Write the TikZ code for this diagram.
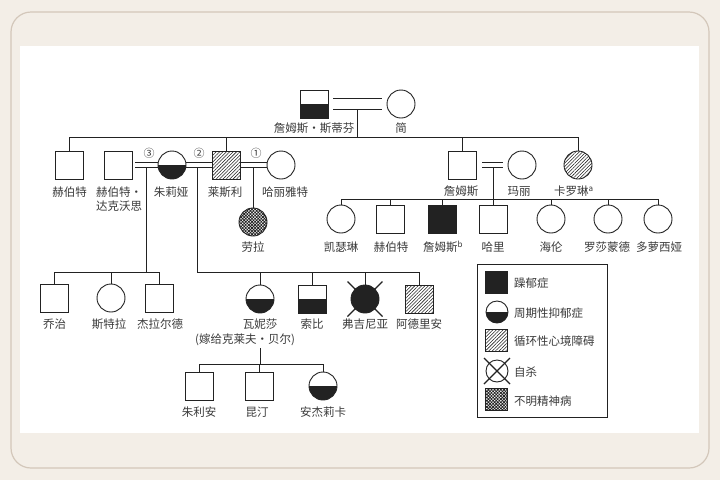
\documentclass[tikz,border=0pt]{standalone}
\usepackage{fontspec}
\setmainfont{Noto Sans CJK SC}
\usetikzlibrary{calc,patterns.meta}
\definecolor{bg}{HTML}{F3EEE7}
\definecolor{rim}{HTML}{D3C7BA}
\definecolor{ink}{HTML}{222222}
\definecolor{txt}{HTML}{3A3A3A}
\tikzset{
  ind/.style={draw=ink, line width=0.9pt, inner sep=0pt, minimum size=28pt, fill=white},
  sq/.style={ind, rectangle},
  ci/.style={ind, circle},
  lsq/.style={sq, minimum size=22pt},
  lci/.style={ci, minimum size=22pt},
  lowhalf/.style={path picture={\fill[ink] (path picture bounding box.west) rectangle (path picture bounding box.south east);}},
  solid/.style={fill=ink},
  hatch/.style={pattern={Lines[angle=45,distance=2.4pt,line width=0.55pt]}, pattern color=ink},
  xhatch/.style={pattern={Hatch[angle=45,distance=2.2pt,line width=0.75pt]}, pattern color=ink},
  lab/.style={font=\fontsize{11.5}{14}\selectfont, text=txt, inner sep=0pt},
  num/.style={font=\fontsize{11}{12}\selectfont, text=txt, inner sep=0pt},
  ln/.style={draw=ink, line width=0.9pt},
  xmark/.style={draw=ink, line width=1.2pt}
}
\begin{document}
\begin{tikzpicture}[x=1pt,y=-1pt]
\fill[bg] (0,0) rectangle (720,480);
\useasboundingbox (0,0) rectangle (720,480);
\draw[rim, line width=1.2pt, rounded corners=20pt] (11,12) rectangle (709,468);
\fill[white] (20,46) rectangle (699,433);

% generation 1
\node[sq, lowhalf] (js) at (314,104) {};
\node[ci] (jane) at (401,104) {};
\node[lab] (jsl) at (314,128) {詹姆斯・斯蒂芬};
\node[lab] (janel) at (401,128) {简};
\draw[ln] ($(js.east)+(5,-5.5)$) -- ($(jane.west)+(-5,-5.5)$);
\draw[ln] ($(js.east)+(5,5.5)$) -- ($(jane.west)+(-5,5.5)$);
\coordinate (m0) at (357,109.5);
\coordinate (g1) at (357,137);
\draw[ln] (m0) -- (g1);

% generation 2
\node[sq] (herb) at (69.5,165) {};
\node[sq] (hd) at (118,165) {};
\node[ci, lowhalf] (julia) at (172,165) {};
\node[sq, hatch] (leslie) at (226,165) {};
\node[ci] (harriet) at (281,165) {};
\node[ci, xhatch] (laura) at (253,222) {};
\node[sq] (james) at (462,165) {};
\node[ci] (mary) at (522,165) {};
\node[ci, hatch] (caroline) at (578,165) {};

\node[lab] (herbl) at (69.5,192) {赫伯特};
\node[lab, align=center] (hdl) at (119,199.5) {赫伯特・\\达克沃思};
\node[lab] (julial) at (171,192) {朱莉娅};
\node[lab] (lesliel) at (225,192) {莱斯利};
\node[lab] (harrietl) at (285,192) {哈丽雅特};
\node[lab] (laural) at (253,247) {劳拉};
\node[lab] (jamesl) at (461,191) {詹姆斯};
\node[lab] (maryl) at (519,191) {玛丽};
\node[lab] (carolinel) at (574,191) {卡罗琳\textsuperscript{a}};

\draw[ln] (herb.north |- g1) -- (caroline.north |- g1);
\foreach \n in {herb,leslie,james,caroline} \draw[ln] (\n.north) -- (\n.north |- g1);

% marriages of generation 2
\foreach \d in {-2.5,2.5} {
  \draw[ln] ($(hd.east)+(3,\d)$) -- ($(julia.west)+(0,\d)$);
  \draw[ln] ($(julia.east)+(0,\d)$) -- ($(leslie.west)+(0,\d)$);
  \draw[ln] ($(leslie.east)+(0,\d)$) -- ($(harriet.west)+(0,\d)$);
  \draw[ln] ($(james.east)+(6,\d)$) -- ($(mary.west)+(-5,\d)$);
}
\node[num] (n3) at (149,153) {③};
\node[num] (n2) at (199,153) {②};
\node[num] (n1) at (256,153) {①};

% generation 3, right
\node[ci] (kat) at (341,219) {};
\node[sq] (herb2) at (390,219) {};
\node[sq, solid] (jam2) at (442,219) {};
\node[sq] (harry) at (493,219) {};
\node[ci] (helen) at (551,219) {};
\node[ci] (ros) at (608,219) {};
\node[ci] (dor) at (658,219) {};
\coordinate (g2) at (493,199);
\coordinate (m4) at (493,167.5);
\draw[ln] (m4) -- (harry.north);
\draw[ln] (kat.north |- g2) -- (dor.north |- g2);
\foreach \n in {kat,herb2,jam2,helen,ros,dor} \draw[ln] (\n.north) -- (\n.north |- g2);
\node[lab] at (341,247) {凯瑟琳};
\node[lab] at (391,247) {赫伯特};
\node[lab] at (443,247) {詹姆斯\textsuperscript{b}};
\node[lab] at (493,247) {哈里};
\node[lab] at (551,247) {海伦};
\node[lab] at (607,247) {罗莎蒙德};
\node[lab] at (659,247) {多萝西娅};

% Laura
\coordinate (m1) at (253,167.5);
\draw[ln] (m1) -- (laura.north);

% generation 3, left (Duckworth)
\node[sq] (george) at (54.5,298) {};
\node[ci] (stella) at (111,298) {};
\node[sq] (gerald) at (159,298) {};
\coordinate (m3) at (146,167.5);
\coordinate (g3) at (146,272);
\draw[ln] (m3) -- (g3);
\draw[ln] (george.north |- g3) -- (gerald.north |- g3);
\foreach \n in {george,stella,gerald} \draw[ln] (\n.north) -- (\n.north |- g3);
\node[lab] at (54.5,324) {乔治};
\node[lab] at (109,324) {斯特拉};
\node[lab] at (160,324) {杰拉尔德};

% generation 3, middle (Stephen)
\node[ci, lowhalf] (vanessa) at (260,299) {};
\node[sq, lowhalf] (thoby) at (312,299) {};
\node[ci, solid] (virginia) at (365,299) {};
\node[sq, hatch] (adrian) at (419,299) {};
\coordinate (m2) at (197,167.5);
\coordinate (g4) at (197,272);
\draw[ln] (m2) -- (g4) -- (adrian.north |- g4);
\foreach \n in {vanessa,thoby,virginia,adrian} \draw[ln] (\n.north) -- (\n.north |- g4);
\draw[xmark] ($(virginia.center)+(-17.5,-17.5)$) -- ($(virginia.center)+(17.5,17.5)$);
\draw[xmark] ($(virginia.center)+(17.5,-17.5)$) -- ($(virginia.center)+(-17.5,17.5)$);
\node[lab] (vanl) at (260,324) {瓦妮莎};
\node[lab] at (312,324) {索比};
\node[lab] at (365,324) {弗吉尼亚};
\node[lab] at (419,324) {阿德里安};
\node[lab] (vanm) at (245,340) {(嫁给克莱夫・贝尔)};

% generation 4
\node[sq] (julian) at (199,386) {};
\node[sq] (quentin) at (259,386) {};
\node[ci, lowhalf] (angelica) at (323,386) {};
\coordinate (v0) at (260,348);
\coordinate (g5) at (260,364);
\draw[ln] (v0) -- (g5);
\draw[ln] (julian.north |- g5) -- (angelica.north |- g5);
\foreach \n in {julian,quentin,angelica} \draw[ln] (\n.north) -- (\n.north |- g5);
\node[lab] at (199,412) {朱利安};
\node[lab] at (257,412) {昆汀};
\node[lab] at (323,412) {安杰莉卡};

% legend
\node[draw=ink, line width=0.9pt, minimum width=130pt, minimum height=153pt, inner sep=0pt] (legend) at (542,340.5) {};
\node[lsq, solid] (k1) at (496,282) {};
\node[lci, lowhalf] (k2) at (497,312) {};
\node[lsq, hatch] (k3) at (496,340) {};
\node[lci] (k4) at (497,371) {};
\node[lsq, xhatch] (k5) at (496,399) {};
\draw[xmark] ($(k4.center)+(-13,-13)$) -- ($(k4.center)+(13,13)$);
\draw[xmark] ($(k4.center)+(13,-13)$) -- ($(k4.center)+(-13,13)$);
\node[lab, anchor=west] at (514,283) {躁郁症};
\node[lab, anchor=west] at (514,313) {周期性抑郁症};
\node[lab, anchor=west] at (514,341) {循环性心境障碍};
\node[lab, anchor=west] at (514,372) {自杀};
\node[lab, anchor=west] at (514,401) {不明精神病};
\end{tikzpicture}
\end{document}
